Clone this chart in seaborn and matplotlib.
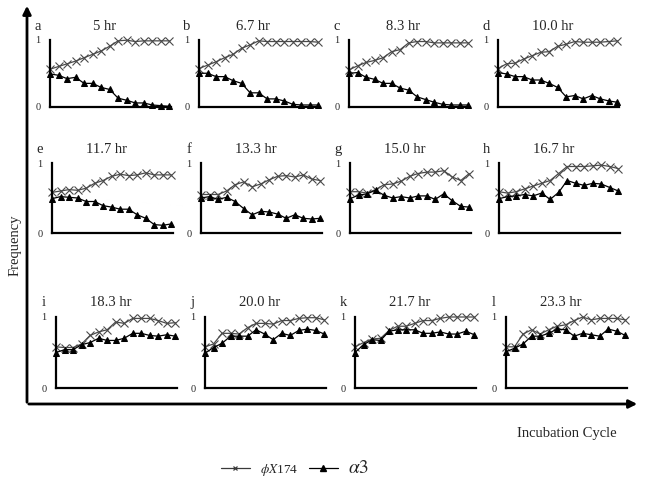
import numpy as np
import pandas as pd
import seaborn as sns
import matplotlib.pyplot as plt
from matplotlib.lines import Line2D

# frequency per incubation cycle (15 cycles), phiX174 (x) and alpha3 (triangles)
phi_a = [0.56, 0.60, 0.64, 0.68, 0.73, 0.78, 0.83, 0.90, 0.98, 0.99, 0.97, 0.98, 0.98, 0.98, 0.98]
a3_a = [0.49, 0.47, 0.42, 0.44, 0.35, 0.35, 0.29, 0.26, 0.13, 0.10, 0.06, 0.06, 0.03, 0.02, 0.01]
phi_b = [0.57, 0.62, 0.67, 0.73, 0.78, 0.87, 0.92, 0.98, 0.97, 0.97, 0.97, 0.97, 0.97, 0.97, 0.96]
a3_b = [0.50, 0.50, 0.45, 0.45, 0.39, 0.35, 0.21, 0.21, 0.12, 0.12, 0.09, 0.04, 0.03, 0.03, 0.03]
phi_c = [0.55, 0.61, 0.66, 0.69, 0.73, 0.82, 0.85, 0.95, 0.97, 0.97, 0.95, 0.95, 0.95, 0.95, 0.95]
a3_c = [0.50, 0.51, 0.44, 0.41, 0.35, 0.35, 0.28, 0.25, 0.15, 0.11, 0.07, 0.04, 0.03, 0.03, 0.03]
phi_d = [0.57, 0.64, 0.65, 0.71, 0.76, 0.81, 0.82, 0.90, 0.93, 0.97, 0.96, 0.96, 0.96, 0.97, 0.98]
a3_d = [0.51, 0.49, 0.45, 0.45, 0.40, 0.40, 0.35, 0.29, 0.15, 0.17, 0.12, 0.17, 0.12, 0.09, 0.07]
phi_e = [0.58, 0.60, 0.62, 0.61, 0.64, 0.71, 0.75, 0.81, 0.84, 0.82, 0.83, 0.86, 0.83, 0.83, 0.83]
a3_e = [0.49, 0.52, 0.51, 0.50, 0.45, 0.45, 0.39, 0.37, 0.34, 0.34, 0.26, 0.21, 0.12, 0.11, 0.13]
phi_f = [0.55, 0.55, 0.55, 0.60, 0.69, 0.73, 0.66, 0.70, 0.76, 0.81, 0.82, 0.80, 0.83, 0.77, 0.75]
a3_f = [0.50, 0.52, 0.48, 0.51, 0.45, 0.35, 0.26, 0.31, 0.30, 0.27, 0.21, 0.26, 0.21, 0.20, 0.21]
phi_g = [0.59, 0.59, 0.57, 0.62, 0.69, 0.70, 0.74, 0.81, 0.85, 0.87, 0.87, 0.89, 0.80, 0.75, 0.85]
a3_g = [0.49, 0.54, 0.56, 0.61, 0.54, 0.50, 0.52, 0.50, 0.53, 0.53, 0.48, 0.56, 0.46, 0.38, 0.37]
phi_h = [0.59, 0.57, 0.59, 0.63, 0.67, 0.71, 0.75, 0.85, 0.95, 0.95, 0.95, 0.96, 0.97, 0.95, 0.92]
a3_h = [0.49, 0.52, 0.53, 0.55, 0.53, 0.57, 0.48, 0.58, 0.75, 0.71, 0.68, 0.71, 0.70, 0.65, 0.60]
phi_i = [0.58, 0.57, 0.57, 0.62, 0.74, 0.79, 0.82, 0.93, 0.91, 0.98, 0.98, 0.98, 0.95, 0.91, 0.92]
a3_i = [0.50, 0.54, 0.54, 0.61, 0.64, 0.70, 0.67, 0.67, 0.70, 0.77, 0.77, 0.74, 0.73, 0.75, 0.73]
phi_j = [0.58, 0.62, 0.77, 0.77, 0.76, 0.85, 0.91, 0.91, 0.90, 0.95, 0.95, 0.98, 0.99, 0.99, 0.96]
a3_j = [0.49, 0.57, 0.63, 0.73, 0.73, 0.73, 0.82, 0.76, 0.68, 0.77, 0.74, 0.81, 0.83, 0.81, 0.76]
phi_k = [0.58, 0.64, 0.69, 0.70, 0.81, 0.87, 0.87, 0.91, 0.95, 0.95, 0.98, 1.00, 1.00, 1.00, 1.00]
a3_k = [0.50, 0.61, 0.68, 0.67, 0.80, 0.82, 0.82, 0.82, 0.77, 0.77, 0.79, 0.76, 0.76, 0.80, 0.75]
phi_l = [0.58, 0.58, 0.76, 0.82, 0.76, 0.82, 0.87, 0.89, 0.95, 1.00, 0.96, 0.98, 0.98, 0.98, 0.96]
a3_l = [0.51, 0.56, 0.62, 0.73, 0.73, 0.77, 0.83, 0.82, 0.73, 0.77, 0.75, 0.73, 0.83, 0.80, 0.74]

letters = ['a', 'b', 'c', 'd', 'e', 'f', 'g', 'h', 'i', 'j', 'k', 'l']
titles = ['5 hr', '6.7 hr', '8.3 hr', '10.0 hr', '11.7 hr', '13.3 hr',
          '15.0 hr', '16.7 hr', '18.3 hr', '20.0 hr', '21.7 hr', '23.3 hr']
phi_all = [phi_a, phi_b, phi_c, phi_d, phi_e, phi_f, phi_g, phi_h, phi_i, phi_j, phi_k, phi_l]
a3_all = [a3_a, a3_b, a3_c, a3_d, a3_e, a3_f, a3_g, a3_h, a3_i, a3_j, a3_k, a3_l]
cycle = np.arange(15)

sns.set_theme(style='white')
plt.rcParams['font.family'] = ['Liberation Serif', 'DejaVu Serif']
plt.rcParams['mathtext.fontset'] = 'stix'

W, H = 645, 488
fig = plt.figure(figsize=(W / 100, H / 100), dpi=100)

# panel geometry in pixels (left edges per row, top/bottom of each row)
lefts = [[50, 199, 349, 498], [52, 201, 350, 499], [56, 205, 355, 506]]
tops = [39.5, 163, 317]
bottoms = [107, 233, 388]
pw = 121

# big arrows for the whole figure
bg = fig.add_axes([0, 0, 1, 1])
bg.set_xlim(0, W)
bg.set_ylim(H, 0)
bg.axis('off')
bg.annotate('', xy=(27, 3), xytext=(27, 405),
            arrowprops=dict(arrowstyle='-|>', color='black', lw=2, mutation_scale=12))
bg.annotate('', xy=(640, 404), xytext=(26, 404),
            arrowprops=dict(arrowstyle='-|>', color='black', lw=2, mutation_scale=12))
bg.text(15, 245, 'Frequency', rotation=90, ha='center', va='center', fontsize=10.5)
bg.text(567, 434, 'Incubation Cycle', ha='center', va='center', fontsize=10.5)

for i in range(12):
    r, c = divmod(i, 4)
    left = lefts[r][c]
    ax = fig.add_axes([left / W, 1 - bottoms[r] / H, pw / W, (bottoms[r] - tops[r]) / H])
    df = pd.DataFrame({'cycle': cycle, 'phi': phi_all[i], 'a3': a3_all[i]})
    sns.lineplot(data=df, x='cycle', y='phi', ax=ax, color='#4a4a4a', lw=0.9,
                 marker='x', markersize=5.2, markeredgecolor='#4a4a4a',
                 markeredgewidth=0.8, clip_on=False)
    sns.lineplot(data=df, x='cycle', y='a3', ax=ax, color='black', lw=0.9,
                 marker='^', markersize=4.3, markeredgecolor='black',
                 markerfacecolor='black', clip_on=False)
    ax.set_xlim(0, 14.2)
    ax.set_ylim(0, 1)
    ax.set_xticks([])
    ax.set_yticks([0, 1])
    ax.set_yticklabels(['0', '1'])
    ax.tick_params(axis='y', direction='in', length=4, width=1.5, pad=7, labelsize=7.5)
    ax.set_xlabel('')
    ax.set_ylabel('')
    sns.despine(ax=ax)
    for s in ['left', 'bottom']:
        ax.spines[s].set_linewidth(1.6)
        ax.spines[s].set_color('black')
    ax.patch.set_alpha(0)
    ax.text(-0.1, 1.2, letters[i], transform=ax.transAxes, ha='center', va='center', fontsize=10.5)
    ax.text(0.45, 1.2, titles[i], transform=ax.transAxes, ha='center', va='center', fontsize=10.5)

handles = [Line2D([], [], color='#3a3a3a', lw=0.9, marker='x', markersize=3.5, markeredgewidth=0.9),
           Line2D([], [], color='black', lw=0.9, marker='^', markersize=5)]
leg = fig.legend(handles, [r'$\phi X$174', r'$\alpha 3$'], ncol=2, frameon=False,
                 loc='center', bbox_to_anchor=(295 / W, 1 - 469 / H),
                 handlelength=2.2, columnspacing=0.8, handletextpad=0.8, fontsize=9.5)
leg.get_texts()[1].set_fontsize(14)

fig.savefig('out.png', dpi=100)
